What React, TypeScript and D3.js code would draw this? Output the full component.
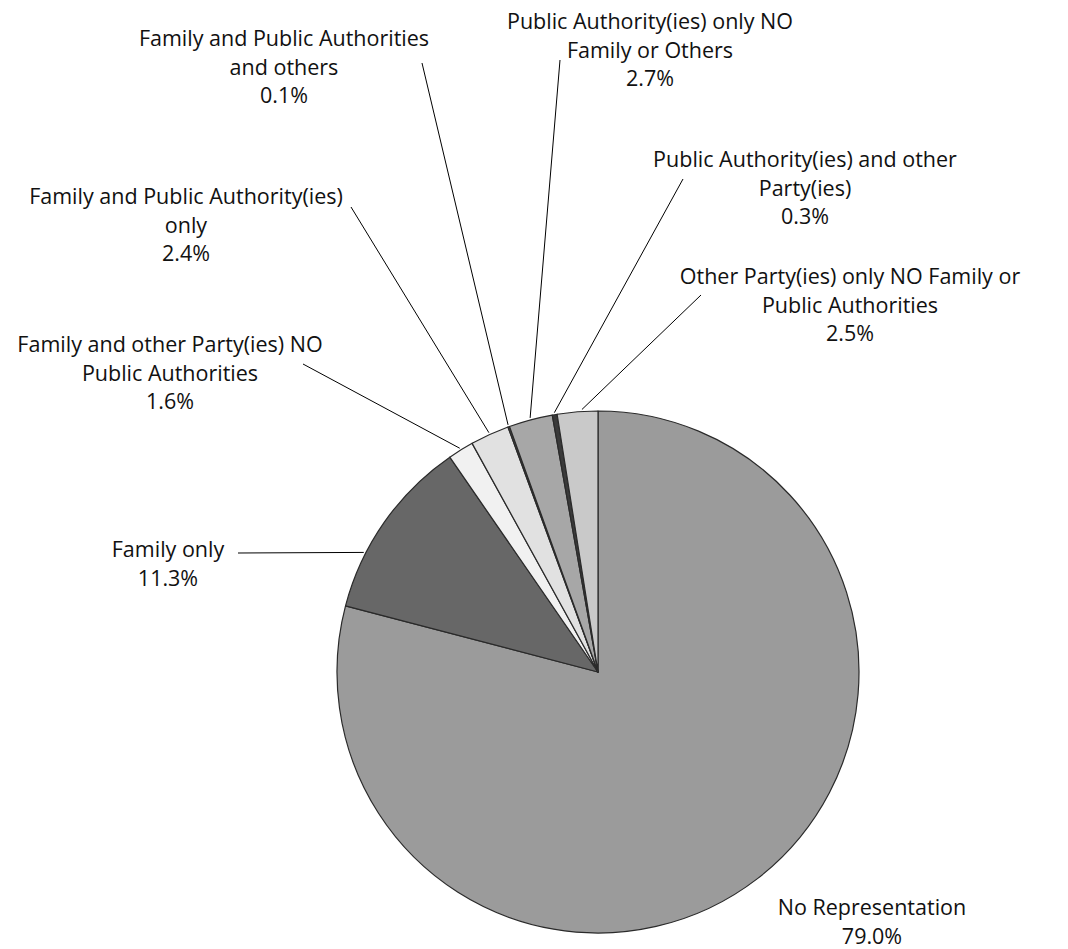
import React, { useRef, useEffect } from "react";
import * as d3 from "d3";

// slice order: clockwise from 12 o'clock
const categories = [
  "No Representation",
  "Family only",
  "Family and other Party(ies) NO Public Authorities",
  "Family and Public Authority(ies) only",
  "Family and Public Authorities and others",
  "Public Authority(ies) only NO Family or Others",
  "Public Authority(ies) and other Party(ies)",
  "Other Party(ies) only NO Family or Public Authorities",
];
const shares = [79.0, 11.3, 1.6, 2.4, 0.1, 2.7, 0.3, 2.5];
const labelLines = [
  ["No Representation"],
  ["Family only"],
  ["Family and other Party(ies) NO", "Public Authorities"],
  ["Family and Public Authority(ies)", "only"],
  ["Family and Public Authorities", "and others"],
  ["Public Authority(ies) only NO", "Family or Others"],
  ["Public Authority(ies) and other", "Party(ies)"],
  ["Other Party(ies) only NO Family or", "Public Authorities"],
];
const fills = ["#9b9b9b", "#676767", "#f1f1f1", "#e1e1e1", "#505050", "#a7a7a7", "#3a3a3a", "#c9c9c9"];

// label placement (text centre x, first baseline y), leader start, leader angle nudge (deg)
const labelPos = [
  { x: 872, y: 915, lead: null, nudge: 0 },
  { x: 168, y: 557, lead: [238, 553], nudge: -8 },
  { x: 170, y: 352, lead: [303, 364], nudge: 0 },
  { x: 186, y: 204, lead: [351, 207], nudge: 0 },
  { x: 284, y: 46, lead: [422, 63], nudge: 0 },
  { x: 650, y: 29, lead: [560, 60], nudge: 0 },
  { x: 805, y: 167, lead: [683, 179], nudge: 0 },
  { x: 850, y: 284, lead: [701, 295], nudge: 1 },
];

const W = 1068;
const H = 949;

export default function App() {
  const svgRef = useRef<SVGSVGElement>(null);

  useEffect(() => {
    const svg = d3.select(svgRef.current);
    svg.selectAll("*").remove();

    const cx = 598;
    const cy = 672;
    const r = 261;
    const data = shares.map((v, i) => ({ name: categories[i], value: v, i }));

    const pie = d3.pie<any>().value((d) => d.value).sort(null);
    const arcs = pie(data);
    const arc = d3.arc<any>().innerRadius(0).outerRadius(r);

    const g = svg.append("g").attr("transform", `translate(${cx},${cy})`);
    g.selectAll("path")
      .data(arcs)
      .enter()
      .append("path")
      .attr("d", arc)
      .attr("fill", (d) => fills[d.index])
      .attr("stroke", "#2a2a2a")
      .attr("stroke-width", 1.2)
      .attr("stroke-linejoin", "round");

    // leader lines
    const lineLen = r + 2;
    arcs.forEach((a, i) => {
      const p = labelPos[i];
      if (!p.lead) return;
      const ang = (a.startAngle + a.endAngle) / 2 + (p.nudge * Math.PI) / 180;
      const ex = cx + lineLen * Math.sin(ang);
      const ey = cy - lineLen * Math.cos(ang);
      svg
        .append("line")
        .attr("x1", p.lead[0])
        .attr("y1", p.lead[1])
        .attr("x2", ex)
        .attr("y2", ey)
        .attr("stroke", "#000")
        .attr("stroke-width", 1);
    });

    // labels
    const lh = 28.5;
    arcs.forEach((a, i) => {
      const p = labelPos[i];
      const lines = [...labelLines[i], `${shares[i].toFixed(1)}%`];
      const t = svg
        .append("text")
        .attr("text-anchor", "middle")
        .attr("font-family", "'Open Sans', 'Noto Sans', sans-serif")
        .attr("font-size", 21.5)
        .attr("fill", "#111");
      lines.forEach((s, k) => {
        t.append("tspan").attr("x", p.x).attr("y", p.y + k * lh).text(s);
      });
    });
  }, []);

  return (
    <svg
      ref={svgRef}
      width={W}
      height={H}
      style={{ position: "absolute", left: 0, top: 0, background: "#fff" }}
    ></svg>
  );
}
